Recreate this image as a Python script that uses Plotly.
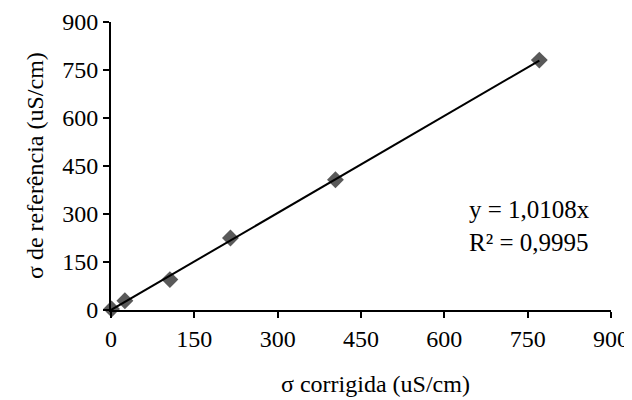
import plotly.graph_objects as go

x_corrigida = [1, 25, 106, 215, 404, 771]
y_referencia = [3, 29, 95, 225, 407, 781]
slope = 1.0108
r2_text = "R² = 0,9995"
eq_text = "y = 1,0108x"
x_title = "σ corrigida (uS/cm)"
y_title = "σ de referência (uS/cm)"
tick_vals = [0, 150, 300, 450, 600, 750, 900]
tick_text = ["0", "150", "300", "450", "600", "750", "900"]

FONT = "Liberation Serif"

fig = go.Figure()
x_fit = [0, max(x_corrigida)]
y_fit = [slope * v for v in x_fit]

fig.add_trace(go.Scatter(
    x=x_corrigida, y=y_referencia, mode="markers",
    marker=dict(symbol="diamond", size=13, color="#595959"),
    showlegend=False, cliponaxis=False))
fig.add_trace(go.Scatter(
    x=x_fit, y=y_fit, mode="lines",
    line=dict(color="black", width=2),
    showlegend=False, cliponaxis=False))

axis_common = dict(
    range=[0, 900], tickvals=tick_vals, ticktext=tick_text,
    showgrid=False, zeroline=False, showline=True, linecolor="black", linewidth=2,
    ticks="outside", ticklen=6, tickwidth=2, tickcolor="black", automargin=False,
    tickfont=dict(family=FONT, size=24, color="black"),
)

tfont = dict(family=FONT, size=24, color="black")

fig.update_layout(
    width=624, height=392,
    margin=dict(l=103, r=21, t=14, b=90),
    paper_bgcolor="white", plot_bgcolor="white",
    font=tfont,
    xaxis=dict(**axis_common),
    yaxis=dict(**axis_common),
    annotations=[
        dict(x=641, y=262, xref="x", yref="y", xanchor="left", yanchor="middle",
             text=eq_text + "<br>" + r2_text, showarrow=False, align="left",
             font=dict(family=FONT, size=25, color="black")),
        dict(x=0.528, y=-0.257, xref="paper", yref="paper", xanchor="center", yanchor="middle",
             text=x_title, showarrow=False, font=tfont),
        dict(x=-0.152, y=0.5, xref="paper", yref="paper", xanchor="center", yanchor="middle",
             text=y_title, textangle=-90, showarrow=False, font=tfont),
    ],
)

fig.write_html("out.html")
